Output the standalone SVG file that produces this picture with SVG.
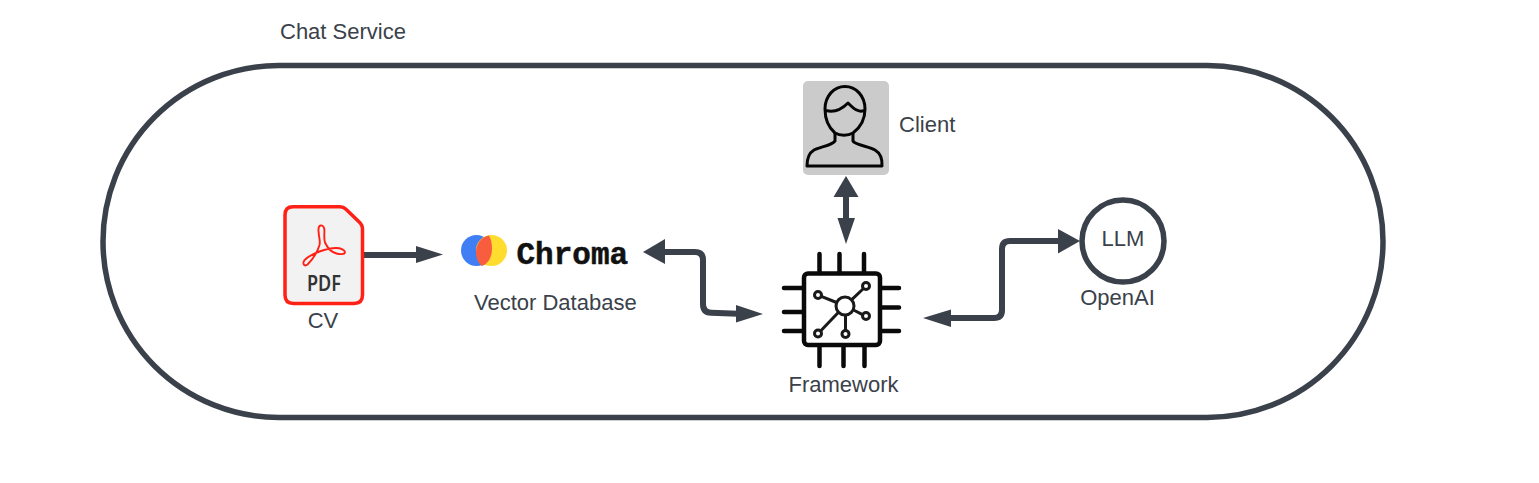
<svg xmlns="http://www.w3.org/2000/svg" width="1539" height="483" viewBox="0 0 1539 483">
<style>
text{font-family:"Liberation Sans",Arial,sans-serif;font-size:22px;fill:#3a414a}
.c{text-anchor:middle}
.ln{fill:none;stroke:#3a414a;stroke-width:6;stroke-linejoin:round}
.hd{fill:#3a414a}
.chip{fill:none;stroke:#0a0a0a;stroke-width:4.500;stroke-linecap:round}
.net{fill:none;stroke:#1a1a1a;stroke-width:3}
.who{fill:none;stroke:#050505;stroke-width:3;stroke-linejoin:round}
</style>
<rect width="1539" height="483" fill="#fff"/>
<g id="chat-service">
<rect x="103" y="65.500" width="1280" height="352" rx="176" ry="176" fill="#fff" stroke="#3a414a" stroke-width="5.500"/>
<text x="280" y="39">Chat Service</text>
</g>
<g id="connectors">
<path class="ln" d="M364 255H418"/>
<path class="hd" d="M416 246L443 254.500L416 263Z"/>
<path class="ln" d="M663 252H695Q703 252 703 260V304Q703 312.500 711 312.800L738 313.800"/>
<path class="hd" d="M643 252L665 239V264Z"/>
<path class="hd" d="M736 305L763 314L736 322.500Z"/>
<path class="ln" d="M846 195V220"/>
<path class="hd" d="M846 176L858.500 197H833.500Z"/>
<path class="hd" d="M837.500 218H855L846 244Z"/>
<path class="ln" d="M949 318H994Q1002 318 1002 310V249Q1002 241 1010 241H1060"/>
<path class="hd" d="M923 318L951 309.500V327Z"/>
<path class="hd" d="M1058 229L1080 241L1058 253.500Z"/>
</g>
<g id="cv">
<path d="M293 206.800H340Q343.500 206.800 346 209.300L360 222.800Q362.500 225.300 362.500 228.800V295Q362.500 303.500 354 303.500H293.500Q285 303.500 285 295V215Q285 206.800 293 206.800Z" fill="#f2f2f2" stroke="#ff2116" stroke-width="3.500"/>
<path d="M320.500 225.500C318.500 226 318.300 230 318.700 233C319 238 320.500 241 319.500 245C317.500 252 312 260 307.500 264.500C305 266.500 303 265 303.500 262C304.500 258 312 254.500 319.500 251.500C325 249.500 331 248 336 248C341 248 345 250 345 252.300C345 254.500 340 254.500 336.500 253.500C331 252 327 247 325 242.500C323.500 238 324.800 232 324.300 229C324 226.500 322 225 320.500 225.500Z" fill="none" stroke="#ff2116" stroke-width="1.900" stroke-linejoin="round"/>
<text x="307" y="291" textLength="34" lengthAdjust="spacingAndGlyphs" style="font-family:'Noto Sans',sans-serif;font-weight:600;font-size:22px;fill:#333">PDF</text>
<text x="323" y="328" class="c">CV</text>
</g>
<g id="vector-database">
<circle cx="476.500" cy="250.500" r="15.500" fill="#3f7ef5"/>
<circle cx="491.500" cy="250.500" r="15.500" fill="#ffdc2e"/>
<path d="M489 235.500C481 237 476 244 476 252C476 258 478 263 482 266C488 264 492 257 492 249C492 243 491 239 489 235.500Z" fill="#f95d3f"/>
<text x="516.500" y="263.500" style="font-family:'Liberation Mono',monospace;font-weight:700;font-size:31px;fill:#111;stroke:#111;stroke-width:.5">Chroma</text>
<text x="474" y="310">Vector Database</text>
</g>
<g id="client">
<rect x="803" y="81" width="86" height="94" rx="5" fill="#cbcbcb"/>
<path class="who" d="M835 133C828 127 825 118 825 109C825 96 834 86.500 845 86.500C856 86.500 865 96 865 109C865 118 861 127 853 133C848 136 840 136 835 133Z"/>
<path class="who" d="M826 110.500C835 113 843 108 848 103C853 108 858 113 864 110.500"/>
<path class="who" d="M835 133V141C833 145 820 147 814 150C809 153 807 158 807 166H882C882.500 158 880 153 875 150C868 146 855 145 853 141V133"/>
<text x="899" y="132">Client</text>
</g>
<g id="framework">
<rect class="chip" x="804" y="273.500" width="76" height="71.500" rx="4"/>
<path class="chip" d="M819.500 254V273M839.500 254V273M864 254V273M819.500 346V366M843.500 346V366M864.500 346V366M784 288H803M784 312H803M784 331H803M881 288H899M881 307.500H899M881 331H899"/>
<g class="net">
<circle cx="845" cy="306" r="9"/>
<circle cx="818" cy="295" r="3.500"/>
<circle cx="866" cy="286" r="3.500"/>
<circle cx="866" cy="316" r="3.500"/>
<circle cx="818" cy="333.500" r="3.500"/>
<circle cx="845.500" cy="334" r="3.500"/>
<path d="M821.300 296.300L836.600 302.500M863.500 288.500L851.500 299.800M862.600 314.700L853.500 310M820.600 331L838.500 312.200M845.500 315V330.500"/>
</g>
<text x="843.500" y="392" class="c">Framework</text>
</g>
<g id="openai">
<circle cx="1123" cy="241" r="41" fill="#fff" stroke="#3a414a" stroke-width="5.500"/>
<text x="1123" y="245.500" class="c">LLM</text>
<text x="1117.500" y="305" class="c">OpenAI</text>
</g>
</svg>
